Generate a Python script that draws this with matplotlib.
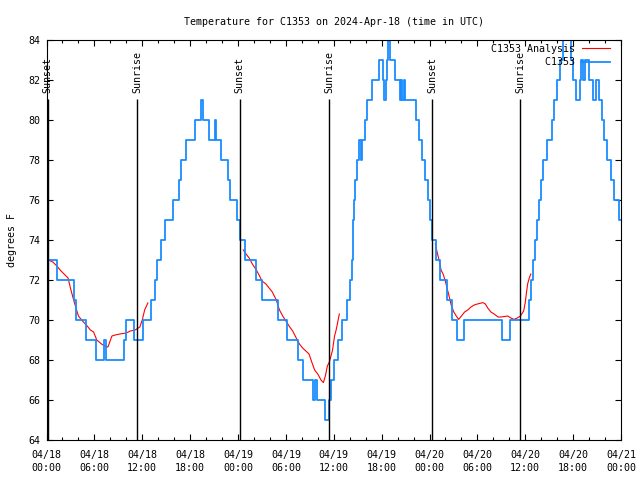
import numpy as np
import matplotlib
matplotlib.use('Agg')
import matplotlib.pyplot as plt

# hours since 2024-04-18 00:00 UTC
obs_hours = [0, 1.3, 3.45, 3.75, 5.0, 6.25, 7.25, 7.5, 9.7, 9.95, 10.95, 12.05,
             13.05, 13.6, 13.89, 14.3, 14.89, 15.89, 16.56, 16.85, 17.52, 18.57,
             19.4, 19.57, 20.32, 21.11, 21.28, 21.82, 22.7, 22.95, 23.83, 24.3,
             24.91, 26.25, 27.0, 28.97, 30.14, 31.52, 32.19, 33.35, 33.69, 33.86,
             34.86, 35.36, 35.65, 35.98, 36.49, 37.03, 37.7, 38.0, 38.24, 38.37,
             38.45, 38.58, 38.7, 38.87, 39.2, 39.4, 39.6, 39.95, 40.16, 40.78,
             41.62, 42.16, 42.33, 42.54, 42.67, 42.83, 43.04, 43.63, 44.3, 44.46,
             44.59, 44.76, 44.88, 46.34, 46.64, 47.01, 47.43, 47.77, 48.06, 48.3,
             48.85, 49.27, 50.23, 50.82, 51.44, 52.28, 57.08, 58.13, 60.42, 60.76,
             60.97, 61.17, 61.47, 61.68, 61.93, 62.26, 62.76, 63.31, 63.64, 64.02,
             64.39, 64.77, 65.02, 65.5, 65.69, 66.02, 66.35, 66.85, 67.02, 67.23,
             67.48, 68.02, 68.53, 68.9, 69.2, 69.66, 69.86, 70.28, 70.7, 71.12,
             71.74, 72.0]
obs_temps = [73, 72, 71, 70, 69, 68, 69, 68, 69, 70, 69, 70,
             71, 72, 73, 74, 75, 76, 77, 78, 79, 80,
             81, 80, 79, 80, 79, 78, 77, 76, 75, 74,
             73, 72, 71, 70, 69, 68, 67, 66, 67, 66,
             65, 66, 67, 68, 69, 70, 71, 72, 73, 74,
             75, 76, 77, 78, 79, 78, 79, 80, 81, 82,
             83, 82, 81, 82, 83, 84, 83, 82, 81, 82,
             81, 82, 81, 80, 79, 78, 77, 76, 75, 74,
             73, 72, 71, 70, 69, 70, 69, 70, 71, 72,
             73, 74, 75, 76, 77, 78, 79, 80, 81, 82,
             83, 84, 85, 84, 83, 82, 81, 82, 83, 82,
             83, 82, 81, 82, 81, 80, 79, 78, 77, 76,
             75, 75]

# analysis segments
ana1_hours = [0.2, 0.8, 1.3, 1.7, 2.2, 2.7, 3.0, 3.4, 3.7, 4.0, 4.5, 5.0, 5.5, 5.9,
              6.3, 6.9, 7.3, 7.7, 8.2, 8.6, 9.2, 10.0, 10.5, 11.1, 11.7, 12.0, 12.3, 12.7]
ana1_temps = [73.0, 72.9, 72.7, 72.5, 72.3, 72.1, 71.6, 71.0, 70.6, 70.2, 69.95, 69.75,
              69.5, 69.4, 69.0, 68.8, 68.7, 68.65, 69.2, 69.25, 69.3, 69.35, 69.45,
              69.5, 69.65, 70.0, 70.5, 70.85]
ana2_hours = [24.67, 25.0, 25.4, 25.8, 26.3, 26.7, 27.0, 27.5, 27.9, 28.3, 28.8, 29.2,
              29.6, 30.0, 30.4, 30.85, 31.3, 31.7, 32.1, 32.5, 32.9, 33.2, 33.6, 34.0,
              34.4, 34.7, 34.95, 35.2, 35.45, 35.85, 36.1, 36.3, 36.5, 36.7]
ana2_temps = [73.5, 73.3, 73.1, 72.8, 72.5, 72.2, 71.95, 71.8, 71.6, 71.4, 71.0, 70.5,
              70.2, 69.95, 69.7, 69.45, 69.1, 68.8, 68.6, 68.45, 68.3, 67.95, 67.5, 67.3,
              67.0, 66.87, 67.2, 67.7, 67.9, 68.5, 69.2, 69.5, 69.9, 70.3]
ana3_hours = [48.73, 48.95, 49.2, 49.45, 49.7, 49.95, 50.2, 50.45, 50.75, 51.05, 51.35,
              51.65, 52.0, 52.4, 52.8, 53.2, 53.6, 54.0, 54.7, 55.0, 55.3, 55.7, 56.1,
              56.6, 57.0, 57.8, 58.2, 58.6, 59.0, 59.4, 59.8, 60.0, 60.15, 60.3, 60.5, 60.7]
ana3_temps = [73.8, 73.4, 73.0, 72.5, 72.3, 72.0, 71.6, 71.2, 70.7, 70.4, 70.2,
              70.03, 70.2, 70.4, 70.5, 70.65, 70.75, 70.8, 70.87, 70.8, 70.6, 70.4, 70.3,
              70.15, 70.15, 70.2, 70.1, 70.03, 70.1, 70.2, 70.45, 70.87, 71.37, 71.8, 72.1, 72.3]

sun_hours = [0.15, 11.37, 24.2, 35.4, 48.3, 59.35]
sun_names = ['Sunset', 'Sunrise', 'Sunset', 'Sunrise', 'Sunset', 'Sunrise']

tick_hours = list(range(0, 73, 6))
tick_labels = ['04/18\n00:00', '04/18\n06:00', '04/18\n12:00', '04/18\n18:00',
               '04/19\n00:00', '04/19\n06:00', '04/19\n12:00', '04/19\n18:00',
               '04/20\n00:00', '04/20\n06:00', '04/20\n12:00', '04/20\n18:00',
               '04/21\n00:00']

plt.rcParams['font.family'] = 'DejaVu Sans Mono'
plt.rcParams['font.size'] = 7.2

fig = plt.figure(figsize=(6.4, 4.8), dpi=100)
ax = fig.add_axes([46.5/640, 1 - 440/480, (621 - 46.5)/640, 400/480])

blue = '#1a8cff'
ax.plot(ana1_hours, ana1_temps, color='red', lw=0.8, label='C1353 Analysis')
ax.plot(ana2_hours, ana2_temps, color='red', lw=0.8)
ax.plot(ana3_hours, ana3_temps, color='red', lw=0.8)
ax.plot(obs_hours, obs_temps, color=blue, lw=1.3, drawstyle='steps-post',
        label='         C1353')

for h, name in zip(sun_hours, sun_names):
    ax.vlines(h, 64, 81.05, color='black', lw=1)
    ax.text(h, 81.35, name, rotation=90, ha='center', va='bottom')

ax.set_xlim(0, 72)
ax.set_ylim(64, 84)
ax.set_yticks(range(64, 85, 2))
ax.set_xticks(tick_hours)
ax.set_xticklabels(tick_labels)
for t in ax.get_xticklabels():
    t.set_linespacing(1.45)
ax.set_xticks(range(0, 73, 2), minor=True)
ax.tick_params(direction='in', top=True, right=True, length=4.5, width=0.8)
ax.tick_params(axis='x', which='major', pad=7)
ax.tick_params(axis='y', pad=4.5)
ax.tick_params(which='minor', direction='in', top=True, length=2.5, width=0.8)
for s in ax.spines.values():
    s.set_linewidth(0.8)

ax.set_title('Temperature for C1353 on 2024-Apr-18 (time in UTC)', fontsize=7.2, pad=11)
ax.set_ylabel('degrees F', labelpad=8)
ax.legend(loc='upper right', bbox_to_anchor=(0.981, 0.99), frameon=False,
          markerfirst=False, handlelength=2.8, borderaxespad=0, borderpad=0,
          labelspacing=0.35, handletextpad=0.7)

plt.savefig('out.png', dpi=100)
